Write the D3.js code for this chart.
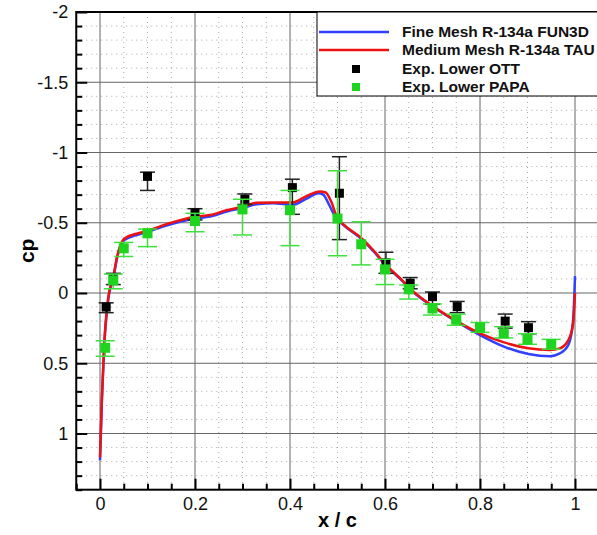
<!DOCTYPE html>
<html>
<head>
<meta charset="utf-8">
<script src="https://cdn.jsdelivr.net/npm/d3@7"></script>
<style>
  body { margin: 0; background: #fff; }
  svg { display: block; font-family: "Liberation Sans", Arial, Helvetica, sans-serif; }
</style>
</head>
<body>
<div class="chart"></div>
<script>
// ---- data ----
const xTicks = [0, 0.2, 0.4, 0.6, 0.8, 1]
const yTicks = [-2, -1.5, -1, -0.5, 0, 0.5, 1]

// CFD curves as [x/c, cp]
const fun3dCurve = [[0.0, 1.19], [0.004, 0.76], [0.0085, 0.4], [0.0175, 0.04], [0.028, -0.105], [0.036, -0.25],
  [0.047, -0.36], [0.055, -0.385], [0.075, -0.41], [0.1, -0.435], [0.14, -0.48], [0.2, -0.53], [0.232, -0.545],
  [0.267, -0.58], [0.3, -0.605], [0.33, -0.632], [0.365, -0.638], [0.405, -0.628], [0.435, -0.672], [0.46, -0.71],
  [0.47, -0.7], [0.482, -0.63], [0.495, -0.545], [0.512, -0.485], [0.547, -0.395], [0.575, -0.3], [0.602, -0.195],
  [0.632, -0.1], [0.66, -0.005], [0.702, 0.1], [0.751, 0.205], [0.8, 0.3], [0.849, 0.38], [0.902, 0.434],
  [0.947, 0.45], [0.968, 0.43], [0.986, 0.37], [0.996, 0.2], [1.0, -0.12]]

const tauCurve = [[0.0, 1.17], [0.004, 0.75], [0.0085, 0.39], [0.0175, 0.03], [0.028, -0.115], [0.036, -0.26],
  [0.047, -0.37], [0.055, -0.395], [0.075, -0.42], [0.1, -0.443], [0.14, -0.49], [0.2, -0.543], [0.232, -0.555],
  [0.267, -0.59], [0.3, -0.614], [0.33, -0.643], [0.365, -0.645], [0.405, -0.645], [0.435, -0.69], [0.463, -0.722],
  [0.475, -0.715], [0.488, -0.64], [0.498, -0.545], [0.512, -0.49], [0.547, -0.4], [0.575, -0.306], [0.602, -0.2],
  [0.632, -0.104], [0.66, -0.01], [0.702, 0.097], [0.751, 0.2], [0.8, 0.287], [0.849, 0.35], [0.902, 0.394],
  [0.947, 0.406], [0.968, 0.394], [0.986, 0.335], [0.996, 0.216], [1.0, 0.0]]

// experiments: x, cp, error bar low / high (in cp)
const ottX = [0.013, 0.028, 0.1, 0.2, 0.305, 0.405, 0.504, 0.602, 0.653, 0.7, 0.752, 0.853, 0.902]
const ottCp = [0.1, -0.1, -0.83, -0.57, -0.667, -0.75, -0.71, -0.215, -0.07, 0.026, 0.097, 0.2, 0.247]
const ottLo = [0.07, -0.14, -0.86, -0.6, -0.705, -0.81, -0.97, -0.29, -0.11, -0.007, 0.06, 0.15, 0.204]
const ottHi = [0.14, -0.06, -0.73, -0.52, -0.63, -0.56, -0.38, -0.14, -0.03, 0.08, 0.14, 0.25, 0.29]

const papaX = [0.011, 0.028, 0.05, 0.1, 0.2, 0.3, 0.4, 0.5, 0.55, 0.6, 0.65, 0.7, 0.75, 0.8, 0.85, 0.9, 0.95]
const papaCp = [0.39, -0.09, -0.318, -0.425, -0.512, -0.595, -0.59, -0.53, -0.347, -0.168, -0.026, 0.11, 0.19, 0.245, 0.287, 0.33, 0.365]
const papaLo = [0.34, -0.135, -0.36, -0.455, -0.567, -0.667, -0.73, -0.87, -0.507, -0.24, -0.057, 0.078, 0.15, 0.21, 0.24, 0.29, 0.33]
const papaHi = [0.45, -0.03, -0.26, -0.33, -0.436, -0.413, -0.337, -0.265, -0.2, -0.06, 0.043, 0.157, 0.23, 0.28, 0.32, 0.365, 0.4]

const legendLabels = ["Fine Mesh R-134a FUN3D", "Medium Mesh R-134a TAU", "Exp. Lower OTT", "Exp. Lower PAPA"]

// ---- layout ----
const W = 597, H = 535
const green = "#1ed41e", greenBar = "#3ee03e", blue = "#3040ff", red = "#ee1111"

const svg = d3.select(".chart").append("svg")
    .attr("width", W)
    .attr("height", H)

const x = d3.scaleLinear().domain([-0.05, 1.05]).range([76.25, 598.75])
const y = d3.scaleLinear().domain([-2, 1.4]).range([12, 489.7])

const pLeft = x(-0.05), pRight = x(1.05), pTop = y(-2), pBottom = y(1.4)

// minor dotted grid
const minorX = d3.range(-0.05, 1.051, 0.05).map(d => +d.toFixed(2)).filter(d => !xTicks.includes(d))
const minorY = d3.range(-2, 1.41, 0.1).map(d => +d.toFixed(1)).filter(d => !yTicks.includes(d))

const grid = svg.append("g")
grid.selectAll(".vminor").data(minorX).enter().append("line")
    .attr("x1", d => x(d)).attr("x2", d => x(d))
    .attr("y1", pTop).attr("y2", pBottom)
    .attr("stroke", "#aaa").attr("stroke-width", 1).attr("stroke-dasharray", "1,4")
grid.selectAll(".hminor").data(minorY).enter().append("line")
    .attr("x1", pLeft).attr("x2", pRight)
    .attr("y1", d => y(d)).attr("y2", d => y(d))
    .attr("stroke", "#aaa").attr("stroke-width", 1).attr("stroke-dasharray", "1,4")
grid.selectAll(".vmajor").data(xTicks).enter().append("line")
    .attr("x1", d => x(d)).attr("x2", d => x(d))
    .attr("y1", pTop).attr("y2", pBottom)
    .attr("stroke", "#666").attr("stroke-width", 1)
grid.selectAll(".hmajor").data(yTicks).enter().append("line")
    .attr("x1", pLeft).attr("x2", pRight)
    .attr("y1", d => y(d)).attr("y2", d => y(d))
    .attr("stroke", "#666").attr("stroke-width", 1)

// axes (ticks point inward)
const xAxis = d3.axisBottom(x).tickValues(xTicks).tickSize(-11).tickPadding(8).tickFormat(d => String(d))
const yAxis = d3.axisLeft(y).tickValues(yTicks).tickSize(-11).tickPadding(8).tickFormat(d => String(d))

const gx = svg.append("g").attr("transform", `translate(0,${pBottom})`).call(xAxis)
const gy = svg.append("g").attr("transform", `translate(${pLeft},0)`).call(yAxis)
const gxm = svg.append("g").attr("transform", `translate(0,${pBottom})`)
    .call(d3.axisBottom(x).tickValues(minorX).tickSize(-6).tickFormat(""))
const gym = svg.append("g").attr("transform", `translate(${pLeft},0)`)
    .call(d3.axisLeft(y).tickValues(minorY).tickSize(-6).tickFormat(""))

for (const g of [gx, gy, gxm, gym]) {
  g.select(".domain").remove()
  g.selectAll("line").attr("stroke", "#000").attr("stroke-width", 2)
  g.selectAll("text").attr("font-size", 18).attr("fill", "#111")
}

// frame
svg.append("rect")
    .attr("x", pLeft).attr("y", pTop)
    .attr("width", pRight - pLeft).attr("height", pBottom - pTop)
    .attr("fill", "none").attr("stroke", "#000").attr("stroke-width", 2)

// axis titles
svg.append("text")
    .attr("x", (pLeft + pRight) / 2).attr("y", 527)
    .attr("text-anchor", "middle")
    .attr("font-size", 20).attr("font-weight", "bold")
    .text("x / c")

svg.append("text")
    .attr("transform", `translate(33.5,${(pTop + pBottom) / 2}) rotate(-90)`)
    .attr("text-anchor", "middle")
    .attr("font-size", 21).attr("font-weight", "bold")
    .text("cp")

// ---- curves ----
const line = d3.line().x(d => x(d[0])).y(d => y(d[1])).curve(d3.curveMonotoneX)

svg.append("path").datum(fun3dCurve)
    .attr("d", line).attr("fill", "none")
    .attr("stroke", blue).attr("stroke-width", 2.5)

svg.append("path").datum(tauCurve)
    .attr("d", line).attr("fill", "none")
    .attr("stroke", red).attr("stroke-width", 2.5)

// ---- experiments ----
function drawExp(xs, cps, lo, hi, color, barColor, size, cap) {
  const data = xs.map((d, i) => ({x: d, cp: cps[i], lo: lo[i], hi: hi[i]}))
  const g = svg.append("g")
  const eb = g.selectAll(".eb").data(data).enter().append("g")
  eb.append("line")
      .attr("x1", d => x(d.x)).attr("x2", d => x(d.x))
      .attr("y1", d => y(d.lo)).attr("y2", d => y(d.hi))
      .attr("stroke", barColor).attr("stroke-width", 1.5)
  eb.append("line")
      .attr("x1", d => x(d.x) - cap / 2).attr("x2", d => x(d.x) + cap / 2)
      .attr("y1", d => y(d.lo)).attr("y2", d => y(d.lo))
      .attr("stroke", barColor).attr("stroke-width", 1.5)
  eb.append("line")
      .attr("x1", d => x(d.x) - cap / 2).attr("x2", d => x(d.x) + cap / 2)
      .attr("y1", d => y(d.hi)).attr("y2", d => y(d.hi))
      .attr("stroke", barColor).attr("stroke-width", 1.5)
  g.selectAll(".sq").data(data).enter().append("rect")
      .attr("x", d => x(d.x) - size / 2).attr("y", d => y(d.cp) - size / 2)
      .attr("width", size).attr("height", size)
      .attr("fill", color)
}

drawExp(ottX, ottCp, ottLo, ottHi, "#000", "#222", 9, 15)
drawExp(papaX, papaCp, papaLo, papaHi, green, greenBar, 10, 19)

// ---- legend ----
const lg = svg.append("g")
lg.append("rect")
    .attr("x", 317).attr("y", pTop)
    .attr("width", 300).attr("height", 84)
    .attr("fill", "#fff").attr("stroke", "#000").attr("stroke-width", 1)

const rowY = [32, 50, 69, 87]
lg.selectAll(".ll").data([blue, red]).enter().append("line")
    .attr("x1", 319).attr("x2", 389)
    .attr("y1", (d, i) => rowY[i]).attr("y2", (d, i) => rowY[i])
    .attr("stroke", d => d).attr("stroke-width", 2.5)
lg.selectAll(".ls").data(["#000", green]).enter().append("rect")
    .attr("x", 352).attr("y", (d, i) => rowY[i + 2] - 4)
    .attr("width", 8).attr("height", 8)
    .attr("fill", d => d)
lg.selectAll(".lt").data(legendLabels).enter().append("text")
    .attr("x", 402).attr("y", (d, i) => rowY[i] + 5)
    .attr("font-size", 15.5).attr("font-weight", "bold").attr("fill", "#111")
    .text(d => d)
</script>
</body>
</html>
